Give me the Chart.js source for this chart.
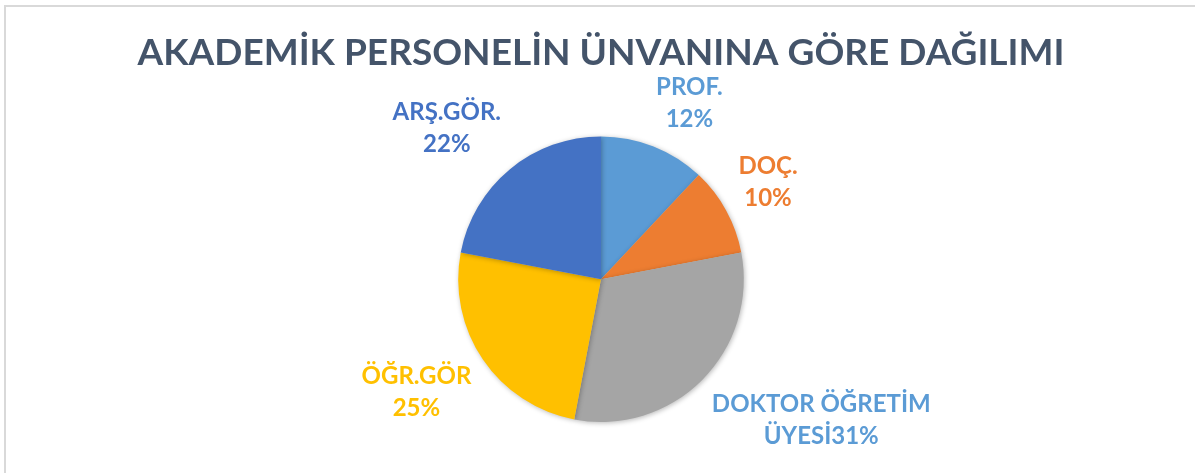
<!DOCTYPE html>
<html>
<head>
<meta charset="utf-8">
<script src="https://cdn.jsdelivr.net/npm/chart.js@4"></script>
<style>
  body { margin: 0; background: #fff; }
  #frame {
    position: absolute; left: 4px; top: 5px; width: 1400px; height: 700px;
    border-left: 2px solid #d9d9d9; border-top: 2px solid #d9d9d9;
  }
  #chart { position: absolute; left: 0; top: 0; }
</style>
</head>
<body>
<div id="frame"></div>
<canvas id="chart" width="1195" height="473"></canvas>
<script>
// Data
const categories = ["PROF.", "DOÇ.", "DOKTOR ÖĞRETİM ÜYESİ", "ÖĞR.GÖR", "ARŞ.GÖR."];
const labelLines = [["PROF."], ["DOÇ."], ["DOKTOR ÖĞRETİM", "ÜYESİ"], ["ÖĞR.GÖR"], ["ARŞ.GÖR."]];
const percents = [12, 10, 31, 25, 22];
const sliceColors = ["#5B9BD5", "#ED7D31", "#A5A5A5", "#FFC000", "#4472C4"];
const labelColors = ["#5B9BD5", "#ED7D31", "#5B9BD5", "#FFC000", "#4472C4"];
const chartTitle = "AKADEMİK PERSONELİN ÜNVANINA GÖRE DAĞILIMI";

const labelFont = "bold 24px Lato";
const lineGap = 32;

// soft shadow under the pie
const pieShadow = {
  id: "pieShadow",
  beforeDatasetsDraw(chart) {
    const ctx = chart.ctx;
    ctx.save();
    ctx.shadowColor = "rgba(0,0,0,0.28)";
    ctx.shadowBlur = 5;
    ctx.shadowOffsetX = 1;
    ctx.shadowOffsetY = 1;
  },
  afterDatasetsDraw(chart) {
    chart.ctx.restore();
  }
};

const clamp = v => Math.max(-1, Math.min(1, v));

// outside-end data labels
const outsideLabels = {
  id: "outsideLabels",
  afterDraw(chart) {
    const ctx = chart.ctx;
    const total = percents.reduce((s, v) => s + v, 0);
    ctx.save();
    ctx.font = labelFont;
    ctx.textAlign = "center";
    ctx.textBaseline = "middle";
    chart.getDatasetMeta(0).data.forEach((arc, i) => {
      const p = arc.getProps(["x", "y", "startAngle", "endAngle", "outerRadius"], true);
      const mid = (p.startAngle + p.endAngle) / 2;
      const dx = Math.cos(mid), dy = Math.sin(mid);
      const pct = Math.round(percents[i] / total * 100) + "%";
      const lines = labelLines[i].slice();
      if (lines.length > 1) lines[lines.length - 1] += pct;
      else lines.push(pct);
      const w = Math.max(...lines.map(l => ctx.measureText(l).width));
      const h = lines.length * (lineGap - 2);
      const ax = p.x + dx * (p.outerRadius + 14);
      const ay = p.y + dy * (p.outerRadius + 14);
      const cx = ax + clamp(dx * 2.5) * w / 2;
      const cy = ay + clamp(dy * 1.5) * h / 2;
      ctx.fillStyle = labelColors[i];
      lines.forEach((l, j) => {
        ctx.fillText(l, cx, cy + (j - (lines.length - 1) / 2) * lineGap);
      });
    });
    ctx.restore();
  }
};

new Chart(document.getElementById("chart"), {
  type: "pie",
  data: {
    labels: categories,
    datasets: [{
      data: percents,
      backgroundColor: sliceColors,
      borderWidth: 0
    }]
  },
  options: {
    responsive: false,
    animation: false,
    layout: { padding: { left: 7, right: 0, top: 0, bottom: 51 } },
    plugins: {
      legend: { display: false },
      tooltip: { enabled: false },
      title: {
        display: true,
        text: chartTitle,
        color: "#44546A",
        font: { family: "Lato", size: 37, weight: "bold", lineHeight: 1.2 },
        padding: { top: 31, bottom: 61 }
      }
    }
  },
  plugins: [pieShadow, outsideLabels]
});
</script>
</body>
</html>
